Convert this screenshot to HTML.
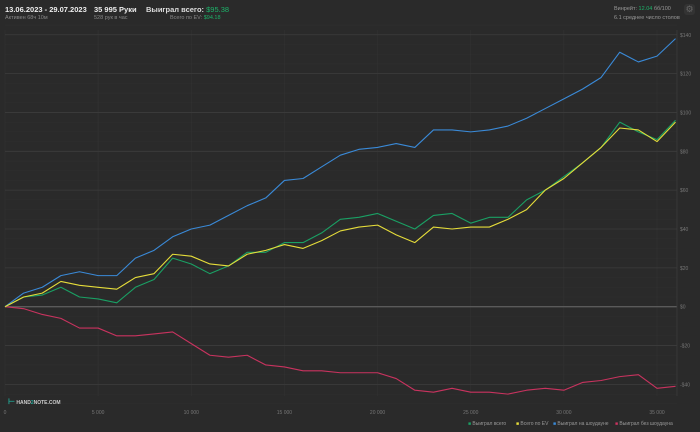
<!DOCTYPE html>
<html><head><meta charset="utf-8">
<style>
body{margin:0;background:#2a2a2a;width:700px;height:432px;overflow:hidden;font-family:"Liberation Sans","Noto Sans CJK SC",sans-serif;}
.t{position:absolute;white-space:nowrap}
</style></head>
<body>
<div style="position:absolute;left:0;top:0;width:700px;height:30px">
<div class="t" style="left:5px;top:5px;font-size:7.5px;color:#eee;font-weight:bold">13.06.2023 - 29.07.2023</div>
<div class="t" style="left:5px;top:15px;font-size:5.5px;color:#888">Активен 68ч 10м</div>
<div class="t" style="left:94px;top:5px;font-size:7.5px;color:#eee;font-weight:bold">35 995 Руки</div>
<div class="t" style="left:94px;top:15px;font-size:5.5px;color:#888">528 рук в час</div>
<div class="t" style="left:146px;top:5px;font-size:7.5px;color:#ddd;font-weight:bold">Выиграл всего: <span style="color:#1db36a;font-weight:normal">$95.38</span></div>
<div class="t" style="left:170px;top:15px;font-size:5.5px;color:#888">Всего по EV: <span style="color:#1db36a">$94.18</span></div>
<div class="t" style="left:614px;top:6px;font-size:5.5px;color:#999">Винрейт: <span style="color:#1db36a">12.04</span> бб/100</div>
<div class="t" style="left:614px;top:15px;font-size:5.5px;color:#999">6.1 среднее число столов</div>
<div style="position:absolute;left:684px;top:4px;width:11px;height:11px;border-radius:3px;background:#333;color:#666;font-size:9px;line-height:11px;text-align:center">⚙</div>
</div>
<svg id="chart" width="700" height="432" style="position:absolute;left:0;top:0">
<g id="grid"></g><g id="series"></g><g id="labels"></g>
</svg>
<div class="t" style="left:8px;top:397px;font-size:5px;color:#ccc;font-weight:bold"><span style="color:#2a9;font-size:8px">⊢</span> HAND<span style="color:#2a9">2</span>NOTE.COM</div>
<div style="position:absolute;left:0;top:421px;width:700px;height:10px;font-size:5px;color:#999">
<span class="t" style="left:468px"><span style="color:#1aa064">■</span> Выиграл всего</span>
<span class="t" style="left:516px"><span style="color:#e6dd3a">■</span> Всего по EV</span>
<span class="t" style="left:553px"><span style="color:#3a8ad8">■</span> Выиграл на шоудауне</span>
<span class="t" style="left:615px"><span style="color:#c9335f">■</span> Выиграл без шоудауна</span>
</div>
<script>
const hands=[0,1000,2000,3000,4000,5000,6000,7000,8000,9000,10000,11000,12000,13000,14000,15000,16000,17000,18000,19000,20000,21000,22000,23000,24000,25000,26000,27000,28000,29000,30000,31000,32000,33000,34000,35000,35995];
const showdown=[0,7,10,16,18,16,16,25,29,36,40,42,47,52,56,65,66,72,78,81,82,84,82,91,91,90,91,93,97,102,107,112,118,131,126,129,138];
const total=[0,5,6,10,5,4,2,10,14,25,22,17,21,28,28,33,33,38,45,46,48,44,40,47,48,43,46,46,55,60,67,74,82,95,90,86,96];
const ev=[0,5,7,13,11,10,9,15,17,27,26,22,21,27,29,32,30,34,39,41,42,37,33,41,40,41,41,45,50,60,66,74,82,92,91,85,95];
const nonShowdown=[0,-1,-4,-6,-11,-11,-15,-15,-14,-13,-19,-25,-26,-25,-30,-31,-33,-33,-34,-34,-34,-37,-43,-44,-42,-44,-44,-45,-43,-42,-43,-39,-38,-36,-35,-42,-41];
const yTicks=[140,120,100,80,60,40,20,0,-20,-40];
const yTickLabels=["$140","$120","$100","$80","$60","$40","$20","$0","-$20","-$40"];
const xTicks=[0,5000,10000,15000,20000,25000,30000,35000];
const xTickLabels=["0","5 000","10 000","15 000","20 000","25 000","30 000","35 000"];
const X=n=>5+n*652/35000;
const Y=v=>306.7-v*38.85/20;
const NS="http://www.w3.org/2000/svg";
const grid=document.getElementById('grid'),ser=document.getElementById('series'),lab=document.getElementById('labels');
function mk(tag,attrs,parent){const e=document.createElementNS(NS,tag);for(const k in attrs)e.setAttribute(k,attrs[k]);parent.appendChild(e);return e;}
for(let v=-50;v<=145;v+=5){if(v%20===0)continue;
const l=mk('line',{x1:5,x2:677,y1:Y(v),y2:Y(v),stroke:'#2f2f2f','stroke-width':0.6},grid);

}
xTicks.forEach((t,i)=>{
const l=mk('line',{x1:X(t),x2:X(t),y1:30,y2:396,stroke:'#323232','stroke-width':0.7},grid);


const tx=mk('text',{x:X(t),y:414,fill:'#777','font-size':5,'text-anchor':'middle'},lab);
tx.textContent=xTickLabels[i];

});
yTicks.forEach((t,i)=>{
const l=mk('line',{x1:5,x2:677,y1:Y(t),y2:Y(t),stroke:t===0?'#5a5a5a':'#3c3c3c','stroke-width':t===0?1.4:0.8},grid);


const tx=mk('text',{x:680,y:Y(t)+2,fill:'#777','font-size':5},lab);
tx.textContent=yTickLabels[i];

});
const ax=mk('line',{x1:677,x2:677,y1:30,y2:396,stroke:'#3c3c3c','stroke-width':0.8},grid);


function line(vals,color,name){
const p=mk('polyline',{points:vals.map((v,i)=>X(hands[i])+','+Y(v)).join(' '),fill:'none',stroke:color,'stroke-width':1.1,'stroke-linejoin':'round'},ser);

}
line(nonShowdown,'#c9335f','line-nonshowdown');
line(showdown,'#3a8ad8','line-showdown');
line(total,'#1aa064','line-total');
line(ev,'#e6dd3a','line-ev');
</script>
</body></html>
